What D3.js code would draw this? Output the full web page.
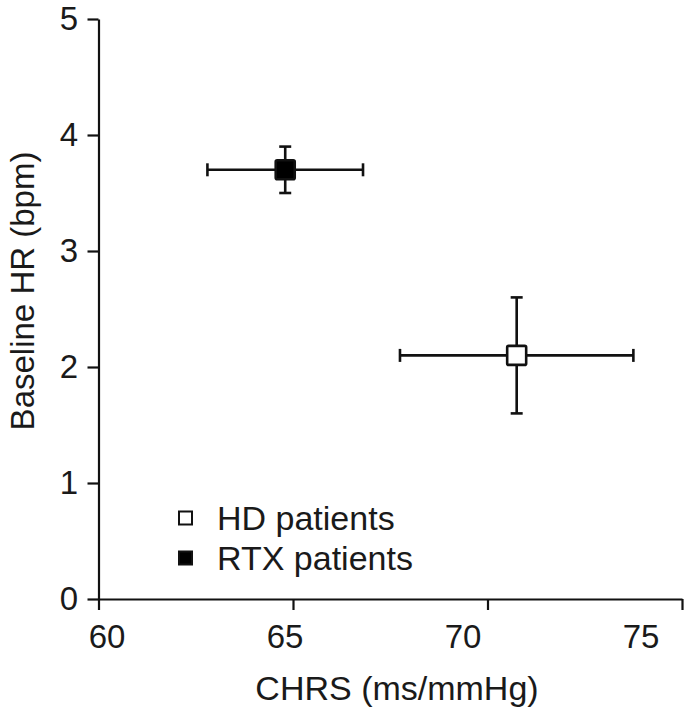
<!DOCTYPE html>
<html>
<head>
<meta charset="utf-8">
<script src="https://cdn.jsdelivr.net/npm/d3@7"></script>
<style>
  body { margin: 0; background: #fff; }
  text { font-family: "Liberation Sans", Arial, sans-serif; fill: #1a1a1a; }
</style>
</head>
<body>
<svg class="chart-svg" width="685" height="710"></svg>
<script>
// data
const groups = ["HD patients", "RTX patients"];
const chrsMean = [70.75, 64.8];
const chrsErr = [3.0, 2.0];
const hrMean = [2.1, 3.7];
const hrErr = [0.5, 0.2];
const filled = [false, true];

const xTicks = [60, 65, 70, 75];
const yTicks = [0, 1, 2, 3, 4, 5];

function drawChart() {
    const svg = d3.select(".chart-svg");

    // scales
    const x = d3.scaleLinear().domain([60, 75]).range([98.5, 682]);
    const y = d3.scaleLinear().domain([0, 5]).range([599, 19]);
    // the tick labels in the original sit a bit off their ticks
    const xLab = d3.scaleLinear().domain([60, 75]).range([107, 641]);

    // axes
    const xAxis = svg.append("g")
        .attr("transform", `translate(0,${y(0)})`)
        .call(d3.axisBottom(x).tickValues(xTicks).tickSize(11).tickSizeOuter(0).tickFormat(""));
    const yAxis = svg.append("g")
        .attr("transform", `translate(${x(60)},0)`)
        .call(d3.axisLeft(y).tickValues(yTicks).tickSize(11).tickSizeOuter(0).tickFormat(""));

    [xAxis, yAxis].forEach(a => {
        a.select(".domain").attr("stroke", "#111").attr("stroke-width", 2.2);
        a.selectAll(".tick line").attr("stroke", "#111").attr("stroke-width", 2.2);
    });

    svg.append("g").selectAll("text")
        .data(xTicks)
        .enter()
        .append("text")
        .attr("x", d => xLab(d))
        .attr("y", 648)
        .attr("text-anchor", "middle")
        .attr("font-size", 33)
        .text(d => d);

    svg.append("g").selectAll("text")
        .data(yTicks)
        .enter()
        .append("text")
        .attr("x", 78)
        .attr("y", d => y(d) + 11)
        .attr("text-anchor", "end")
        .attr("font-size", 33)
        .text(d => d);

    // axis titles
    svg.append("text")
        .attr("x", 397)
        .attr("y", 700)
        .attr("text-anchor", "middle")
        .attr("font-size", 34)
        .text("CHRS (ms/mmHg)");

    svg.append("text")
        .attr("transform", "translate(34,291) rotate(-90)")
        .attr("text-anchor", "middle")
        .attr("font-size", 33)
        .text("Baseline HR (bpm)");

    // error bars and markers
    const pts = groups.map((g, i) => ({
        name: g, cx: chrsMean[i], ex: chrsErr[i], cy: hrMean[i], ey: hrErr[i], filled: filled[i]
    }));

    const bars = svg.append("g")
        .attr("stroke", "#111")
        .attr("stroke-width", 2.6)
        .selectAll("g")
        .data(pts)
        .enter()
        .append("g");

    bars.append("line")
        .attr("x1", d => x(d.cx - d.ex)).attr("x2", d => x(d.cx + d.ex))
        .attr("y1", d => y(d.cy)).attr("y2", d => y(d.cy));
    bars.append("line")
        .attr("x1", d => x(d.cx)).attr("x2", d => x(d.cx))
        .attr("y1", d => y(d.cy - d.ey)).attr("y2", d => y(d.cy + d.ey));
    // caps
    [-1, 1].forEach(s => {
        bars.append("line")
            .attr("x1", d => x(d.cx + s * d.ex)).attr("x2", d => x(d.cx + s * d.ex))
            .attr("y1", d => y(d.cy) - 6.5).attr("y2", d => y(d.cy) + 6.5);
        bars.append("line")
            .attr("x1", d => x(d.cx) - 6).attr("x2", d => x(d.cx) + 6)
            .attr("y1", d => y(d.cy + s * d.ey)).attr("y2", d => y(d.cy + s * d.ey));
    });

    const sq = 19;
    bars.append("rect")
        .attr("x", d => x(d.cx) - sq / 2)
        .attr("y", d => y(d.cy) - sq / 2)
        .attr("width", sq)
        .attr("height", sq)
        .attr("rx", 1.5)
        .attr("fill", d => d.filled ? "#000" : "#fff");

    // legend
    const legend = svg.append("g")
        .selectAll("g")
        .data(pts)
        .enter()
        .append("g")
        .attr("transform", (d, i) => `translate(0,${518 + i * 40})`);

    legend.append("rect")
        .attr("x", 179)
        .attr("y", -6.5)
        .attr("width", 13)
        .attr("height", 13)
        .attr("fill", d => d.filled ? "#000" : "#fff")
        .attr("stroke", "#111")
        .attr("stroke-width", 2);

    legend.append("text")
        .attr("x", 217)
        .attr("y", 12)
        .attr("font-size", 34)
        .text(d => d.name);
}

document.addEventListener("DOMContentLoaded", function () {
    drawChart();
});
</script>
</body>
</html>
